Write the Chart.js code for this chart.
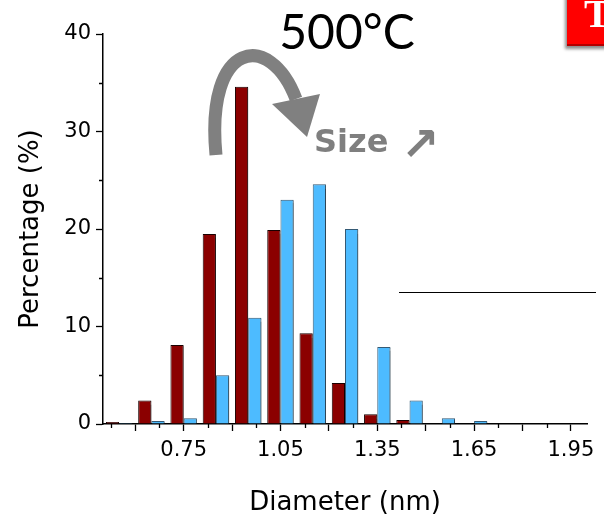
<!DOCTYPE html>
<html>
<head>
<meta charset="utf-8">
<script src="https://cdn.jsdelivr.net/npm/chart.js@4/dist/chart.umd.min.js"></script>
<style>
  html, body { margin: 0; padding: 0; background: #fff; }
  #wrap { position: relative; width: 604px; height: 519px; overflow: hidden; }
  #wrap canvas, #wrap svg { position: absolute; left: 0; top: 0; }
  .note { position: absolute; white-space: nowrap; line-height: 1; }
  #temp { left: 247px; top: 7px; width: 200px; text-align: center; font-family: Lato, sans-serif; font-size: 48px; color: #000; }
  #size, #arrow { font-family: "DejaVu Sans", sans-serif; font-weight: bold; color: #7f7f7f; }
  #size { left: 314px; top: 125px; font-size: 32px; }
  #arrow { left: 401px; top: 121px; font-size: 46px; }
  #tag { left: 567px; top: -6px; width: 60px; height: 52px; background: #f00;
         box-shadow: inset 0 -2px 0 #b40000, -2px 3px 3px rgba(0,0,0,0.45); }
  #tag b { position: absolute; left: 17px; top: -0.5px; font-family: "Liberation Serif", serif;
           font-size: 40px; color: #fff; line-height: 1; }
</style>
</head>
<body>
<div id="wrap">
  <canvas id="chart" width="604" height="519"></canvas>
  <svg width="604" height="519">
    <!-- curved grey arrow -->
    <path d="M216,155 C205,40 270,30 296,99" fill="none" stroke="#808080" stroke-width="13"/>
    <polygon points="272,104 320,94 307,137" fill="#808080"/>
    <!-- stray horizontal line -->
    <line x1="399" y1="292.5" x2="596" y2="292.5" stroke="#000" stroke-width="1"/>
  </svg>
  <div class="note" id="temp">500°C</div>
  <div class="note" id="size">Size</div>
  <div class="note" id="arrow">↗</div>
  <div class="note" id="tag"><b>T</b></div>
</div>
<script>
// ---- data ----
const diameters = [0.55, 0.65, 0.75, 0.85, 0.95, 1.05, 1.15, 1.25, 1.35, 1.45, 1.55, 1.65];
const redValues = [0.2, 2.4, 8.1, 19.5, 34.6, 19.9, 9.3, 4.2, 1.0, 0.4, 0, 0];
const blueValues = [0.1, 0.3, 0.6, 5.0, 10.9, 23.0, 24.6, 20.0, 7.9, 2.4, 0.6, 0.3];

const xMajorTicks = [0.6, 0.75, 0.9, 1.05, 1.2, 1.35, 1.5, 1.65, 1.8, 1.95];
const xLabelTicks = [0.75, 1.05, 1.35, 1.65, 1.95];
const xMinorTicks = [0.525, 0.675, 0.825, 0.975, 1.125, 1.275, 1.425, 1.575, 1.725, 1.875];
const yMajorTicks = [0, 10, 20, 30, 40];
const yMinorTicks = [5, 15, 25, 35];

const toPoints = vals => diameters.map((d, i) => ({ x: d, y: vals[i] }));

/* short ticks between the labelled ones */
const minorTicks = {
  id: "minorTicks",
  afterDraw(chart) {
    const { ctx, scales: { x, y } } = chart;
    ctx.save();
    ctx.strokeStyle = "#000";
    ctx.lineWidth = 1.3;
    ctx.beginPath();
    xMinorTicks.forEach(v => {
      const px = Math.round(x.getPixelForValue(v)) + 0.5;
      ctx.moveTo(px, x.top);
      ctx.lineTo(px, x.top + 4);
    });
    yMinorTicks.forEach(v => {
      const py = Math.round(y.getPixelForValue(v)) + 0.5;
      ctx.moveTo(y.right, py);
      ctx.lineTo(y.right - 4, py);
    });
    ctx.stroke();
    ctx.restore();
  }
};

/* soft drop shadow on the bars */
const barShadow = {
  id: "barShadow",
  beforeDatasetsDraw(chart) {
    const ctx = chart.ctx;
    ctx.save();
    ctx.shadowColor = "rgba(0,0,0,0.35)";
    ctx.shadowOffsetX = 2;
    ctx.shadowOffsetY = 1;
    ctx.shadowBlur = 1;
  },
  afterDatasetsDraw(chart) {
    chart.ctx.restore();
  }
};

const tickFont = { family: "DejaVu Sans", size: 21 };
const titleFont = { family: "DejaVu Sans", size: 26 };

new Chart(document.getElementById("chart"), {
  type: "bar",
  data: {
    datasets: [
      {
        data: toPoints(redValues),
        backgroundColor: "#8b0000",
        borderColor: "#1a0000",
        borderWidth: 1
      },
      {
        data: toPoints(blueValues),
        backgroundColor: "#4dbbff",
        borderColor: "#345a75",
        borderWidth: 1
      }
    ]
  },
  options: {
    responsive: false,
    animation: false,
    layout: { padding: { top: 34, right: 17, left: 0, bottom: 0 } },
    plugins: { legend: { display: false }, tooltip: { enabled: false } },
    datasets: { bar: { categoryPercentage: 0.82, barPercentage: 1 } },
    scales: {
      x: {
        type: "linear",
        min: 0.5,
        max: 2.0,
        offset: false,
        afterBuildTicks: s => { s.ticks = xMajorTicks.map(v => ({ value: v })); },
        afterFit: s => { s.height = 95; },
        ticks: {
          autoSkip: false,
          maxRotation: 0,
          color: "#000",
          font: tickFont,
          padding: 7,
          callback: v => xLabelTicks.some(t => Math.abs(t - v) < 1e-6) ? v.toFixed(2) : ""
        },
        grid: { drawOnChartArea: false, offset: false, tickLength: 7, tickColor: "#000", tickWidth: 1.3 },
        border: { color: "#000", width: 1.5 },
        title: { display: true, text: "Diameter (nm)", color: "#000", font: titleFont, padding: { top: 0, bottom: 0 } }
      },
      y: {
        min: 0,
        max: 40,
        afterBuildTicks: s => { s.ticks = yMajorTicks.map(v => ({ value: v })); },
        afterFit: s => { s.width = 103; },
        ticks: { color: "#000", font: tickFont, padding: 5 },
        grid: { drawOnChartArea: false, tickLength: 7, tickColor: "#000", tickWidth: 1.3 },
        border: { color: "#000", width: 1.5 },
        title: { display: true, text: "Percentage (%)", color: "#000", font: titleFont, padding: { top: 16, bottom: 0 } }
      }
    }
  },
  plugins: [minorTicks, barShadow]
});
</script>
</body>
</html>
